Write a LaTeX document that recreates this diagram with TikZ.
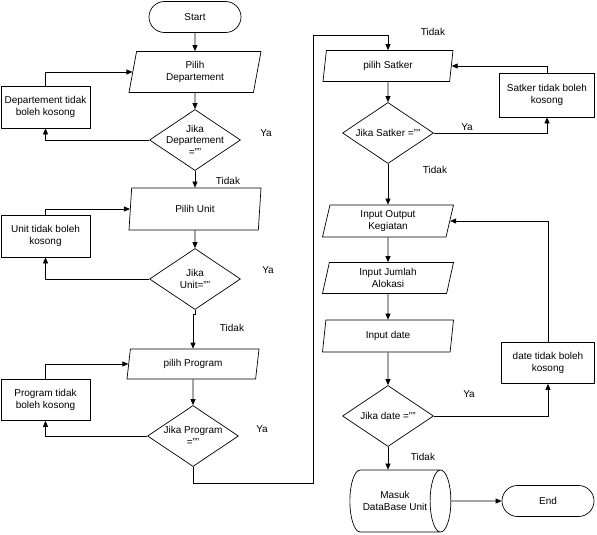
\documentclass[tikz,border=0pt]{standalone}
\usepackage{fontspec}
\setmainfont{Liberation Sans}
\usetikzlibrary{shapes.geometric,shapes.misc,arrows.meta}

\begin{document}
\begin{tikzpicture}[x=1pt,y=-1pt,font=\fontsize{10}{11.5}\selectfont,line width=0.7pt,
  term/.style={draw,rounded rectangle,minimum width=92,minimum height=31,inner sep=0},
  inout/.style={draw,trapezium,trapezium left angle=70,trapezium right angle=110,
    trapezium stretches body,minimum width=132,inner sep=0,align=center},
  decide/.style={draw,diamond,minimum width=91,minimum height=61,inner sep=0},
  proc/.style={draw,rectangle,minimum width=89,minimum height=42,inner sep=1,align=center},
  db/.style={draw,cylinder,aspect=1.1,minimum width=62,minimum height=101,inner sep=0,align=center},
  arr/.style={-{Triangle[length=6pt,width=5pt]}}]
\useasboundingbox (0,0) rectangle (597,535);
% left column
\node[term] (start) at (195,17) {Start};
\node[inout,minimum height=41] (dept) at (195,72) {Pilih\\Departement};
\node[decide,label={[align=center]center:{Jika\\Departement\\=""}}] (d1) at (195,140) {};
\node[proc] (e1) at (45.5,107) {Departement tidak\\boleh kosong};
\node[inout,minimum height=42] (unit) at (195,209) {Pilih Unit};
\node[decide,label={[align=center]center:{Jika\\Unit=""}}] (d2) at (195,279) {};
\node[proc] (e2) at (45.5,236) {Unit tidak boleh\\kosong};
\node[inout,minimum height=30] (prog) at (193,364) {pilih Program};
\node[decide,label={[align=center]center:{Jika Program\\=""}}] (d3) at (193,436) {};
\node[proc,minimum height=41] (e3) at (45.5,400) {Program tidak\\boleh kosong};
% right column
\node[inout,minimum width=130,minimum height=31] (satker) at (388,66) {pilih Satker};
\node[decide,label={center:{Jika Satker =""}}] (d4) at (388,133) {};
\node[proc,minimum width=95,minimum height=44] (e4) at (547,95) {Satker tidak boleh\\kosong};
\node[inout,minimum width=131,minimum height=32] (output) at (388,221) {Input Output\\Kegiatan};
\node[inout,minimum width=131,minimum height=31] (alokasi) at (388,278) {Input Jumlah\\Alokasi};
\node[inout,minimum width=131,minimum height=32] (date) at (388,336) {Input date};
\node[decide,label={center:{Jika date =""}}] (d5) at (388,416) {};
\node[proc,minimum width=93,minimum height=41] (e5) at (548,363) {date tidak boleh\\kosong};
\node[db] (base) at (395,501) {Masuk\\DataBase Unit};
\node[term] (end) at (548,501) {End};
\coordinate (j1) at (313,483);
\coordinate (j2) at (313,35);

% connectors
\draw[arr] (start) -- (dept);
\draw[arr] (dept) -- (d1);
\draw[arr] (d1) -- (unit);
\draw[arr] (d1.west) -| (e1.south);
\draw[arr] (e1.north) |- (dept.west);
\draw[arr] (unit) -- (d2);
\draw[arr] (d2.west) -| (e2.south);
\draw[arr] (e2.north) |- (unit.west);
\draw[arr] (d2.south) -- ++(0,4) -| (prog.north);
\draw[arr] (prog) -- (d3);
\draw[arr] (d3.west) -| (e3.south);
\draw[arr] (e3.north) |- (prog.west);
\draw[arr] (d3.south) |- (j1) -- (j2) -| (satker.north);
\draw[arr] (satker) -- (d4);
\draw[arr] (d4.east) -| (e4.south);
\draw[arr] (e4.north) |- (satker.east);
\draw[arr] (d4) -- (output);
\draw[arr] (output) -- (alokasi);
\draw[arr] (alokasi) -- (date);
\draw[arr] (date) -- (d5);
\draw[arr] (d5.east) -| (e5.south);
\draw[arr] (e5.north) |- (output.east);
\draw[arr] (d5.south) -- (d5.south |- base.north);
\draw[arr] (base.east) -- (end.west);

% branch labels
\foreach \px/\py [count=\i] in {266/133,268/270,262/429,467/127,469/394}
  \node (ya\i) at (\px,\py) {Ya};
\foreach \px/\py [count=\i] in {228/181,232/328,433/32,435/170,423/457}
  \node (tidak\i) at (\px,\py) {Tidak};
\end{tikzpicture}
\end{document}
